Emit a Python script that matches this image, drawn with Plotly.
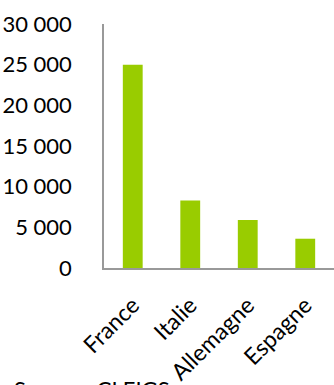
import plotly.graph_objects as go

# Pays et valeurs
pays = ["France", "Italie", "Allemagne", "Espagne"]
valeurs = [25000, 8300, 5900, 3600]
ticks_y = [0, 5000, 10000, 15000, 20000, 25000, 30000]
labels_y = ["0", "5 000", "10 000", "15 000", "20 000", "25 000", "30 000"]

fig = go.Figure(
    go.Bar(x=pays, y=valeurs, marker=dict(color="#99cc00", line=dict(width=0)))
)

font = dict(family="Lato, Open Sans, sans-serif", size=22, color="#000000")

fig.update_layout(
    width=334,
    height=385,
    margin=dict(l=104, r=0, t=24, b=114),
    paper_bgcolor="white",
    plot_bgcolor="white",
    bargap=0.655,
    showlegend=False,
    font=font,
)
fig.update_xaxes(
    showline=True, linecolor="#999999", linewidth=1.5,
    showgrid=False, ticks="", tickangle=-45,
    range=[-0.5, 3.5], tickfont=dict(size=23),
    ticklabelstandoff=13,
)
fig.update_yaxes(
    showline=True, linecolor="#999999", linewidth=1.5,
    showgrid=False, zeroline=False, ticks="",
    range=[0, 30000], tickvals=ticks_y, ticktext=labels_y,
    ticklabelstandoff=26,
)
fig.add_annotation(
    text="Source : CLEIGS", xref="paper", yref="paper",
    x=-0.40, y=-0.43, xanchor="left", yanchor="top",
    showarrow=False, font=dict(size=22),
)

fig.write_html("out.html")
